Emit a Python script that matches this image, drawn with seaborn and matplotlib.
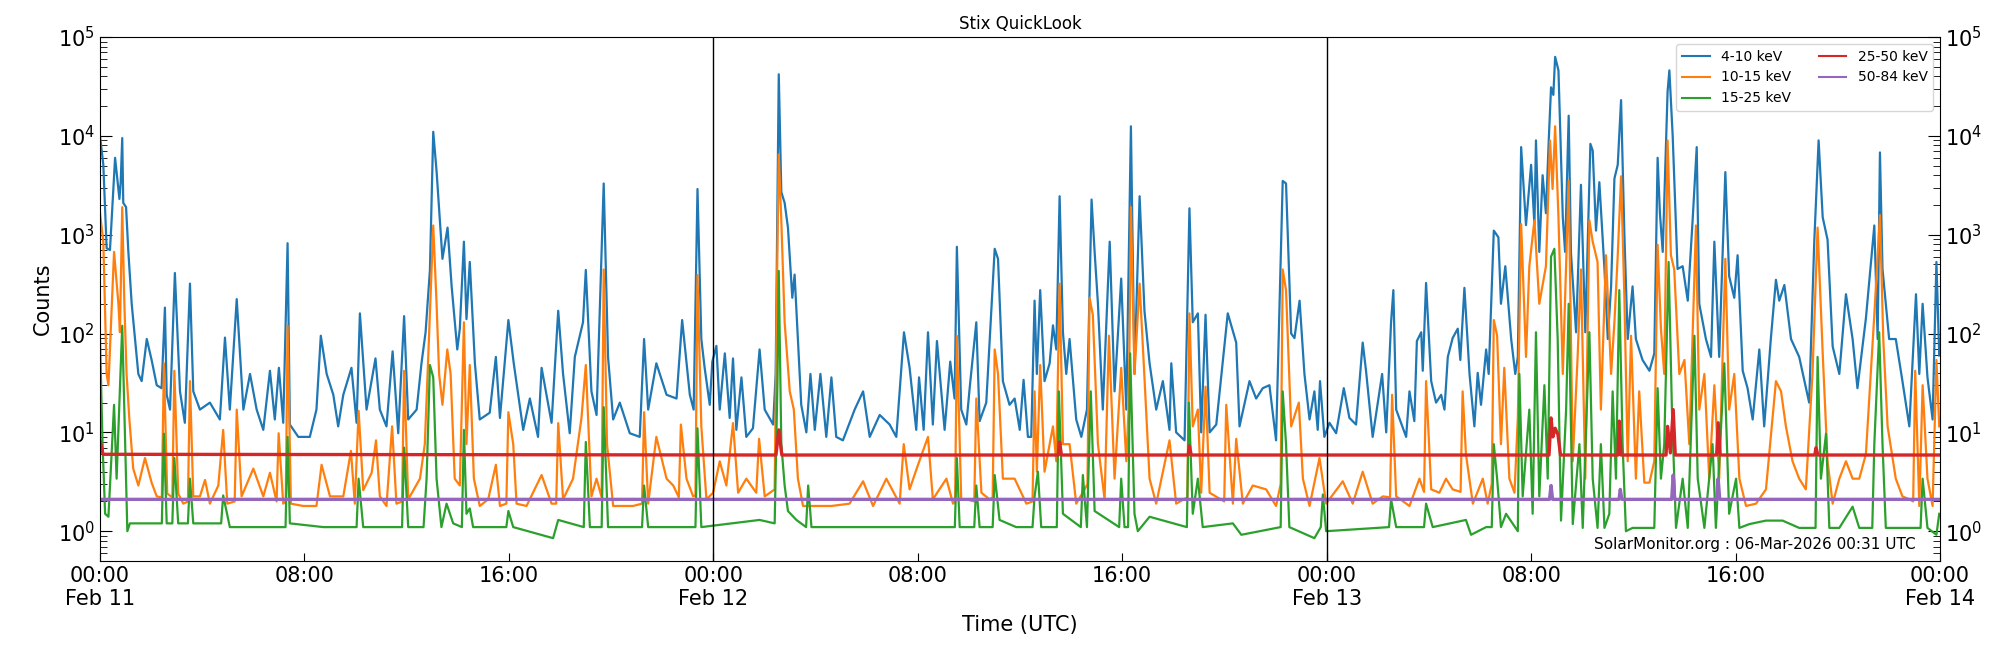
import matplotlib
matplotlib.use("Agg")
import matplotlib.pyplot as plt
import matplotlib.dates as mdates
import matplotlib.ticker as mticker
import pandas as pd
import seaborn as sns

# STIX quicklook light curves, Feb 11-13 (hours since Feb 11 00:00 UTC, counts)
start = pd.Timestamp("2026-02-11 00:00")

band_4_10 = [
    (0.00, 10000), (0.13, 5100), (0.26, 730), (0.39, 700), (0.59, 6000), (0.76, 2300), (0.81, 3400),
    (0.87, 9500), (0.91, 2100), (1.02, 1900), (1.11, 670), (1.24, 200), (1.37, 88), (1.50, 39),
    (1.63, 33), (1.83, 88), (2.02, 54), (2.22, 30), (2.41, 28), (2.54, 183), (2.61, 24), (2.74, 17),
    (2.93, 410), (3.13, 26), (3.32, 12.5), (3.52, 320), (3.65, 26), (3.91, 17), (4.30, 20),
    (4.69, 13.5), (4.89, 91), (5.08, 17), (5.35, 223), (5.61, 17), (5.87, 39), (6.13, 17),
    (6.39, 10.6), (6.65, 42), (6.84, 13.5), (7.00, 45), (7.17, 12.5), (7.34, 820), (7.43, 12),
    (7.76, 9), (8.21, 9), (8.47, 17), (8.64, 95), (8.87, 39), (9.13, 24), (9.32, 11.5), (9.52, 24),
    (9.84, 45), (10.04, 12.5), (10.17, 160), (10.43, 17), (10.78, 56), (10.95, 17), (11.21, 11.5),
    (11.45, 66), (11.67, 9.8), (11.90, 150), (12.06, 13.5),
    (12.39, 17), (12.58, 50), (12.74, 103), (12.91, 440), (13.04, 11000), (13.17, 4400),
    (13.40, 570), (13.60, 1180), (13.76, 300), (13.98, 69), (14.08, 112), (14.24, 850), (14.34, 140),
    (14.47, 530), (14.67, 50), (14.86, 13.5), (15.25, 15.8), (15.49, 58), (15.65, 14), (15.98, 137),
    (16.19, 50), (16.56, 10.6), (16.82, 22), (17.14, 9), (17.28, 45), (17.67, 12.5), (17.93, 170),
    (18.12, 39), (18.38, 9.8), (18.58, 58), (18.90, 130), (19.01, 440), (19.23, 26), (19.43, 15),
    (19.71, 3300), (19.88, 58), (20.08, 13.5), (20.34, 20), (20.73, 9.8), (21.12, 9), (21.29, 88),
    (21.45, 17), (21.77, 50), (22.17, 24), (22.56, 22), (22.78, 137), (23.08, 24), (23.23, 17),
    (23.38, 2900), (23.53, 88), (23.66, 45), (23.86, 19), (23.96, 52),
    (24.12, 75), (24.25, 17), (24.45, 63), (24.64, 14), (24.77, 56), (24.90, 10.6), (25.10, 36),
    (25.29, 9), (25.55, 11), (25.81, 69), (26.01, 17), (26.34, 12), (26.44, 39), (26.56, 42000),
    (26.66, 2700), (26.79, 2100), (26.92, 1180), (27.09, 230), (27.18, 395), (27.31, 88),
    (27.44, 19), (27.64, 10), (27.80, 39), (27.97, 10.6), (28.19, 39), (28.42, 9), (28.62, 36),
    (28.81, 9), (29.07, 8.3), (29.53, 17), (29.86, 26), (30.12, 9), (30.51, 15), (30.90, 12),
    (31.16, 9), (31.46, 103), (31.68, 45), (31.94, 10.6), (32.05, 36), (32.23, 10.6), (32.40, 103),
    (32.59, 12), (32.75, 84), (33.05, 10.6), (33.27, 52), (33.44, 22), (33.53, 755), (33.70, 17),
    (33.90, 12), (34.03, 28), (34.29, 130), (34.42, 13), (34.68, 20), (35.01, 720), (35.14, 570),
    (35.33, 33), (35.59, 19), (35.79, 22),
    (35.99, 10.6), (36.14, 34), (36.31, 9), (36.44, 9), (36.57, 215), (36.66, 39), (36.79, 275),
    (36.96, 33), (37.16, 50), (37.29, 121), (37.42, 69), (37.55, 2450), (37.68, 103), (37.81, 39),
    (37.94, 88), (38.20, 13.5), (38.40, 9), (38.62, 17), (38.80, 2270), (38.92, 670), (39.05, 200),
    (39.24, 17), (39.51, 850), (39.70, 26), (39.96, 360), (40.16, 17), (40.25, 440), (40.34, 12500),
    (40.48, 39), (40.68, 2450), (40.87, 170), (41.07, 50), (41.33, 17), (41.59, 33), (41.85, 10.6),
    (41.92, 50), (42.11, 10), (42.44, 8.3), (42.63, 1850), (42.76, 130), (42.96, 160), (43.09, 10),
    (43.26, 155), (43.42, 10), (43.68, 12), (44.13, 160), (44.46, 81), (44.59, 11.5), (44.98, 33),
    (45.24, 22), (45.50, 28), (45.76, 30), (46.02, 8.3), (46.28, 3500), (46.41, 3300), (46.61, 100),
    (46.74, 90), (46.94, 215),
    (47.13, 39), (47.33, 13.5), (47.52, 26), (47.65, 10.6), (47.74, 33), (47.91, 9), (48.11, 12.5),
    (48.37, 9.8), (48.67, 28), (48.89, 14), (49.15, 12), (49.41, 81), (49.54, 42), (49.80, 9),
    (50.17, 39), (50.33, 10), (50.52, 130), (50.61, 275), (50.72, 17), (51.11, 9), (51.24, 26),
    (51.43, 13), (51.53, 84), (51.70, 103), (51.76, 42), (51.89, 325), (52.09, 33), (52.28, 20),
    (52.48, 24), (52.61, 17), (52.74, 58), (52.93, 90), (53.13, 112), (53.23, 54), (53.39, 290),
    (53.59, 39), (53.78, 11.5), (53.91, 40), (54.04, 19), (54.24, 69), (54.34, 39), (54.54, 1100),
    (54.72, 940), (54.82, 200), (54.99, 480), (55.22, 88), (55.38, 39), (55.48, 58), (55.61, 7700),
    (55.80, 1250), (56.00, 5100), (56.13, 1250), (56.19, 9000), (56.32, 670), (56.45, 4000),
    (56.58, 1650), (56.69, 9000), (56.78, 31000), (56.87, 26000), (56.94, 63000), (57.07, 46000),
    (57.24, 1500), (57.33, 670), (57.47, 16000), (57.56, 650), (57.76, 103), (57.95, 3200),
    (58.12, 103), (58.32, 8300), (58.41, 7100), (58.54, 1100),
    (58.67, 3400), (58.87, 450), (59.00, 88), (59.13, 300), (59.26, 3700), (59.39, 5100),
    (59.52, 23000), (59.65, 1000), (59.78, 88), (59.97, 300), (60.10, 88), (60.36, 54), (60.63, 42),
    (60.82, 63), (60.95, 6000), (61.04, 1650), (61.15, 670), (61.34, 28000), (61.41, 46000),
    (61.54, 10000), (61.73, 450), (61.93, 480), (62.13, 215), (62.32, 1400), (62.48, 7700),
    (62.58, 200), (62.84, 88), (63.04, 58), (63.17, 850), (63.36, 58), (63.60, 4300), (63.75, 380),
    (63.95, 230), (64.08, 620), (64.28, 42), (64.47, 28), (64.67, 13.5), (64.93, 69), (65.12, 11.5),
    (65.38, 88), (65.58, 350), (65.71, 215), (65.91, 310), (66.17, 88), (66.49, 58), (66.88, 20),
    (67.08, 850), (67.25, 9000), (67.41, 1500), (67.60, 890), (67.80, 74), (68.06, 39), (68.32, 250),
    (68.58, 88), (68.77, 28), (69.10, 142), (69.43, 1240), (69.56, 88), (69.65, 6800), (69.75, 450),
    (70.01, 88), (70.27, 88), (70.53, 33), (70.80, 11.5), (71.06, 250), (71.19, 39), (71.32, 200),
    (71.51, 36), (71.71, 13.5), (71.86, 530), (71.97, 60),
]

band_10_15 = [
    (0.00, 1650), (0.13, 850), (0.26, 39), (0.33, 30), (0.55, 670), (0.72, 200), (0.78, 103),
    (0.87, 1900), (0.95, 215), (1.04, 39), (1.15, 13.5), (1.30, 4.3), (1.50, 2.9), (1.76, 5.5),
    (2.02, 3.1), (2.22, 2.25), (2.42, 2.2), (2.50, 50), (2.63, 2.4), (2.83, 2.2), (2.91, 42),
    (3.06, 2.4), (3.26, 1.9), (3.44, 2.0), (3.52, 33), (3.65, 2.25), (3.91, 2.25), (4.11, 3.3),
    (4.30, 1.9), (4.63, 2.9), (4.82, 10.6), (4.98, 1.9), (5.27, 2.0), (5.35, 17), (5.54, 2.25),
    (6.00, 4.3), (6.39, 2.25), (6.65, 3.9), (6.91, 2.0), (6.99, 9.8), (7.17, 1.9), (7.27, 2.0),
    (7.34, 120), (7.47, 1.9), (7.95, 1.8), (8.47, 1.8), (8.67, 4.7), (9.00, 2.25), (9.52, 2.25),
    (9.82, 6.5), (9.97, 1.9), (10.12, 16.5), (10.30, 2.6), (10.63, 3.9), (10.80, 8.3), (10.95, 2.25),
    (11.21, 1.8), (11.43, 11.5), (11.60, 1.9), (11.82, 2.0), (11.90, 42), (12.06, 2.1),
    (12.52, 3.4), (12.71, 7.6), (12.84, 54), (13.04, 1240), (13.17, 200), (13.27, 39), (13.40, 19),
    (13.59, 69), (13.72, 39), (13.88, 3.4), (14.08, 2.9), (14.24, 130), (14.34, 7.6), (14.47, 48),
    (14.63, 3.4), (14.86, 1.8), (15.19, 2.1), (15.49, 4.7), (15.65, 1.8), (15.90, 1.9), (15.98, 16),
    (16.17, 7.6), (16.30, 1.9), (16.69, 1.8), (17.28, 3.7), (17.67, 1.9), (17.85, 1.9), (17.93, 12.4),
    (18.12, 2.1), (18.51, 3.4), (18.84, 14), (19.01, 48), (19.23, 2.25), (19.43, 3.4), (19.63, 2.2),
    (19.71, 445), (19.84, 7.6), (20.08, 1.8), (20.86, 1.8), (21.21, 1.9), (21.29, 16), (21.45, 1.9),
    (21.77, 9), (22.17, 3.4), (22.43, 2.9), (22.65, 2.2), (22.73, 12), (22.95, 3.4), (23.21, 2.25),
    (23.30, 2.3), (23.38, 390), (23.53, 11.5), (23.73, 2.1),
    (23.99, 2.45), (24.25, 5.1), (24.51, 2.9), (24.77, 12.4), (24.97, 2.45), (25.29, 3.4),
    (25.68, 2.45), (25.79, 8.6), (26.01, 2.25), (26.40, 2.65), (26.49, 320), (26.56, 6500),
    (26.66, 1400), (26.79, 130), (26.99, 26), (27.15, 17), (27.31, 3.4), (27.51, 1.8), (28.03, 1.8),
    (28.62, 1.8), (29.33, 1.9), (29.86, 3.2), (30.25, 1.8), (30.77, 3.4), (31.29, 1.9), (31.45, 7.6),
    (31.68, 2.65), (32.01, 4.7), (32.40, 9), (32.59, 2.1), (33.12, 3.4), (33.38, 1.9), (33.46, 2.0),
    (33.53, 95), (33.70, 2.1), (33.90, 2.1), (34.21, 2.0), (34.29, 22), (34.49, 2.45), (34.81, 2.1),
    (34.93, 2.2), (35.01, 69), (35.14, 39), (35.33, 3.4), (35.79, 3.4),
    (36.25, 1.9), (36.49, 2.0), (36.57, 26), (36.66, 4.0), (36.79, 48), (36.96, 4.0), (37.29, 11.5),
    (37.42, 5.1), (37.55, 320), (37.68, 7.6), (37.94, 7.6), (38.20, 1.9), (38.53, 2.65), (38.64, 3.0),
    (38.72, 230), (38.85, 155), (39.05, 7.6), (39.31, 2.1), (39.48, 95), (39.70, 3.4), (39.96, 45),
    (40.16, 5.1), (40.26, 20), (40.34, 1900), (40.48, 39), (40.68, 320), (40.87, 36), (41.07, 3.4),
    (41.33, 1.9), (41.85, 8.3), (42.11, 1.9), (42.55, 2.2), (42.63, 160), (42.76, 11.5), (42.96, 17),
    (43.09, 2.45), (43.26, 29), (43.42, 2.45), (43.99, 2.0), (44.07, 19), (44.33, 1.9), (44.46, 8.6),
    (44.72, 1.9), (45.11, 2.9), (45.63, 2.65), (46.02, 1.8), (46.20, 3.0), (46.28, 445), (46.41, 275),
    (46.61, 11.5), (46.91, 20), (47.07, 3.4), (47.33, 1.8),
    (47.72, 5.5), (47.98, 1.9), (48.63, 3.2), (49.02, 1.9), (49.41, 4.0), (49.80, 1.9), (50.20, 2.25),
    (50.48, 2.2), (50.56, 24), (50.72, 2.25), (51.24, 1.8), (51.63, 3.4), (51.81, 2.5), (51.89, 33),
    (52.09, 2.65), (52.41, 2.45), (52.67, 3.4), (52.93, 2.65), (53.24, 2.5), (53.32, 26), (53.45, 6),
    (53.72, 1.9), (54.11, 3.4), (54.30, 1.9), (54.46, 3.0), (54.54, 137), (54.67, 95), (54.82, 7.6),
    (54.95, 45), (55.15, 3.4), (55.35, 2.45), (55.48, 14), (55.61, 1280), (55.80, 58), (55.93, 480),
    (56.13, 1400), (56.32, 200), (56.58, 480), (56.74, 9000), (56.84, 2900), (56.94, 12500),
    (57.07, 1500), (57.24, 39), (57.47, 3500), (57.63, 5.1), (57.82, 58), (57.95, 445), (58.12, 3.4),
    (58.28, 1400), (58.41, 850), (58.60, 530), (58.73, 17), (58.93, 620), (59.13, 39),
    (59.26, 130), (59.39, 620), (59.52, 3900), (59.65, 230), (59.78, 5.1), (59.91, 95), (60.10, 3.4),
    (60.23, 26), (60.43, 3.1), (60.63, 3.1), (60.82, 5.1), (60.95, 790), (61.08, 112), (61.21, 39),
    (61.34, 9000), (61.47, 620), (61.60, 445), (61.80, 39), (62.00, 54), (62.19, 7.6), (62.45, 1240),
    (62.58, 17), (62.78, 39), (62.97, 3.4), (63.17, 30), (63.36, 3.4), (63.60, 570), (63.75, 17),
    (63.95, 39), (64.15, 3.4), (64.41, 1.8), (64.80, 1.9), (65.19, 2.65), (65.58, 33), (65.78, 26),
    (65.97, 11.5), (66.23, 5.1), (66.49, 3.4), (66.75, 2.65), (67.01, 39), (67.21, 1180), (67.41, 63),
    (67.60, 5.1), (67.80, 1.9), (68.06, 3.4), (68.32, 5.1), (68.58, 3.4), (68.84, 3.4), (69.10, 6),
    (69.43, 155), (69.65, 1580), (69.78, 88), (69.95, 11.5), (70.27, 3.4), (70.53, 2.25), (70.80, 2.1),
    (70.95, 2.0), (71.03, 42), (71.19, 1.8), (71.32, 30), (71.51, 3.4), (71.71, 1.8), (71.86, 54),
    (71.97, 11.5),
]

band_15_25 = [
    (0.00, 88), (0.10, 7.6), (0.20, 1.5), (0.33, 1.4), (0.55, 19), (0.65, 3.4), (0.87, 120),
    (0.98, 8.3), (1.07, 1.0), (1.17, 1.2), (1.69, 1.2), (2.42, 1.2), (2.50, 9.7), (2.61, 1.2),
    (2.83, 1.2), (2.91, 5.5), (3.06, 1.2), (3.44, 1.2), (3.52, 3.4), (3.65, 1.2), (4.74, 1.2),
    (4.82, 2.3), (5.08, 1.1), (7.26, 1.1), (7.34, 9), (7.43, 1.2), (8.74, 1.1), (10.04, 1.1),
    (10.12, 3.4), (10.30, 1.1), (11.82, 1.1), (11.90, 7), (12.06, 1.1), (12.66, 1.1), (12.78, 3.4),
    (12.91, 48), (13.04, 36), (13.17, 3.4), (13.36, 1.1), (13.56, 1.9), (13.82, 1.2), (14.16, 1.1),
    (14.24, 10.6), (14.34, 1.5), (14.47, 1.7), (14.60, 1.1), (15.90, 1.1), (15.98, 1.6), (16.17, 1.1),
    (17.73, 0.85), (17.93, 1.3), (18.93, 1.1), (19.01, 8), (19.17, 1.1), (19.63, 1.1), (19.71, 18),
    (19.88, 1.1), (21.21, 1.1), (21.29, 2.9), (21.45, 1.1), (23.30, 1.1), (23.38, 11), (23.53, 1.1),
    (25.81, 1.3), (26.40, 1.2), (26.51, 33), (26.56, 430), (26.66, 7.6), (26.79, 2.9), (26.92, 1.6),
    (27.25, 1.3), (27.63, 1.1), (27.71, 2.9), (27.84, 1.1), (29.99, 1.1), (33.45, 1.1), (33.53, 5.5),
    (33.64, 1.1), (34.21, 1.1), (34.29, 2.9), (34.42, 1.1), (34.93, 1.1), (35.01, 3.7), (35.20, 1.3),
    (35.85, 1.1), (36.49, 1.1), (36.57, 2.25), (36.70, 4.0), (36.83, 1.1), (37.44, 1.1), (37.52, 26),
    (37.68, 1.5), (38.38, 1.1), (38.46, 3.7), (38.62, 1.1), (38.77, 26), (38.92, 1.6), (39.88, 1.1),
    (39.96, 3.4), (40.09, 1.1), (40.23, 1.1), (40.31, 63), (40.48, 1.5), (40.61, 1.0), (41.07, 1.4),
    (42.53, 1.1), (42.61, 20), (42.76, 1.5), (42.96, 3.4), (43.15, 1.1), (44.33, 1.2), (44.66, 0.92),
    (46.20, 1.1), (46.28, 26), (46.41, 7.6), (46.54, 1.1), (47.52, 0.85), (47.77, 1.1), (47.85, 2.35),
    (47.98, 1.0), (50.44, 1.1), (50.52, 2.1), (50.72, 1.1), (51.81, 1.1), (51.89, 1.9), (52.15, 1.1),
    (53.45, 1.3), (53.65, 0.92), (54.24, 1.1), (54.46, 1.1), (54.54, 7.6), (54.67, 3.4), (54.82, 1.1),
    (55.02, 1.5), (55.48, 1.0), (55.54, 39), (55.67, 2.25), (55.93, 17), (56.06, 1.5), (56.19, 103),
    (56.32, 2.25), (56.52, 30), (56.65, 3.4), (56.78, 600), (56.91, 720), (57.04, 88), (57.17, 1.28),
    (57.37, 17), (57.47, 200), (57.63, 1.18), (57.89, 7.6), (58.02, 1.08), (58.28, 103), (58.41, 3.4),
    (58.60, 1.08), (58.73, 7.6), (58.87, 1.08), (59.06, 1.5), (59.19, 26), (59.32, 3.4), (59.45, 275),
    (59.58, 7.6), (59.71, 1.0), (59.97, 1.08), (60.36, 1.08), (60.82, 1.08), (60.95, 28), (61.08, 3.4),
    (61.21, 7.6), (61.38, 530), (61.51, 17), (61.67, 1.08), (61.93, 3.4), (62.13, 1.08), (62.39, 95),
    (62.52, 3.4), (62.78, 1.08), (63.10, 7.6), (63.23, 1.08), (63.56, 50), (63.75, 1.5), (64.02, 3.4),
    (64.15, 1.08), (64.54, 1.18), (65.19, 1.28), (65.84, 1.28), (66.49, 1.08), (67.13, 1.08),
    (67.21, 58), (67.34, 3.4), (67.54, 9.7), (67.67, 1.08), (68.06, 1.08), (68.58, 1.77), (68.84, 1.08),
    (69.35, 1.08), (69.43, 7.6), (69.62, 103), (69.75, 7.6), (69.88, 1.08), (70.40, 1.08),
    (71.06, 1.08), (71.24, 1.08), (71.32, 3.4), (71.51, 1.08), (71.86, 0.92), (71.97, 1.5),
]

band_25_50 = [
    (0.00, 8.3), (0.12, 6.0), (26.45, 5.9), (26.56, 10.6), (26.68, 5.9), (37.50, 5.9), (37.55, 8.0),
    (37.62, 5.9), (42.58, 5.9), (42.63, 7.3), (42.70, 5.9), (56.70, 5.9), (56.78, 14), (56.85, 9),
    (56.94, 11), (57.05, 9.5), (57.15, 5.9), (59.40, 5.9), (59.45, 13), (59.52, 5.9), (61.28, 5.9),
    (61.34, 11.5), (61.45, 6.2), (61.56, 17), (61.64, 5.9), (63.26, 5.9), (63.32, 12.5), (63.40, 5.9),
    (67.10, 5.9), (67.15, 7.0), (67.22, 5.9), (72.00, 5.9),
]

band_50_84 = [
    (0.00, 2.1), (56.72, 2.1), (56.78, 2.9), (56.84, 2.1), (59.44, 2.1), (59.49, 2.65), (59.55, 2.1),
    (61.50, 2.1), (61.56, 3.7), (61.62, 2.1), (63.26, 2.1), (63.32, 3.4), (63.38, 2.1), (72.00, 2.1),
]

bands = ["4-10 keV", "10-15 keV", "15-25 keV", "25-50 keV", "50-84 keV"]
colors = ["#1f77b4", "#ff7f0e", "#2ca02c", "#d62728", "#9467bd"]
series = [band_4_10, band_10_15, band_15_25, band_25_50, band_50_84]

frames = []
for name, pts in zip(bands, series):
    hrs, vals = zip(*pts)
    frames.append(pd.DataFrame({
        "time": start + pd.to_timedelta(list(hrs), unit="h"),
        "counts": list(vals),
        "band": name,
    }))
df = pd.concat(frames, ignore_index=True)

fig = plt.figure(figsize=(20, 6.5), dpi=100)
ax = fig.add_axes([0.05, 0.137, 0.92, 0.806])

for name, col in zip(bands, colors):
    # the two flat high-energy bands are noisy, so they read a bit thicker
    lw = 2.4 if name in ("25-50 keV", "50-84 keV") else 1.6
    sns.lineplot(data=df[df["band"] == name], x="time", y="counts", color=col,
                 lw=lw, label=name, estimator=None, sort=False, ax=ax)

ax.set_yscale("log")
ax.set_ylim(0.5, 1e5)
ax.set_xlim(start, start + pd.Timedelta(days=3))

# day boundaries
for d in (1, 2):
    ax.axvline(start + pd.Timedelta(days=d), color="black", lw=1)


def time_fmt(x, pos):
    t = mdates.num2date(x)
    if t.hour == 0:
        return t.strftime("%H:%M\n%b %d")
    return t.strftime("%H:%M")


ax.xaxis.set_major_locator(mdates.HourLocator(byhour=[0, 8, 16]))
ax.xaxis.set_major_formatter(mticker.FuncFormatter(time_fmt))
ax.yaxis.set_major_locator(mticker.LogLocator(base=10, numticks=10))
ax.yaxis.set_minor_locator(mticker.LogLocator(base=10, subs=range(2, 10), numticks=20))
ax.yaxis.set_minor_formatter(mticker.NullFormatter())

ax.tick_params(axis="x", which="major", direction="in", length=6, labelsize=15, top=False)
ax.tick_params(axis="y", which="major", direction="in", length=8.5, labelsize=15,
               left=True, right=True, labelleft=True, labelright=True)
ax.tick_params(axis="y", which="minor", direction="in", length=5, left=True, right=True)

ax.set_xlabel("Time (UTC)", fontsize=15)
ax.set_ylabel("Counts", fontsize=15)
ax.set_title("Stix QuickLook", fontsize=12)

leg = ax.legend(loc="upper right", ncol=2, fontsize=10)
for h in leg.get_lines():
    h.set_linewidth(1.5)
ax.text(0.987, 0.032, "SolarMonitor.org : 06-Mar-2026 00:31 UTC", transform=ax.transAxes,
        ha="right", va="center", fontsize=11)

fig.savefig("out.png", dpi=100)
